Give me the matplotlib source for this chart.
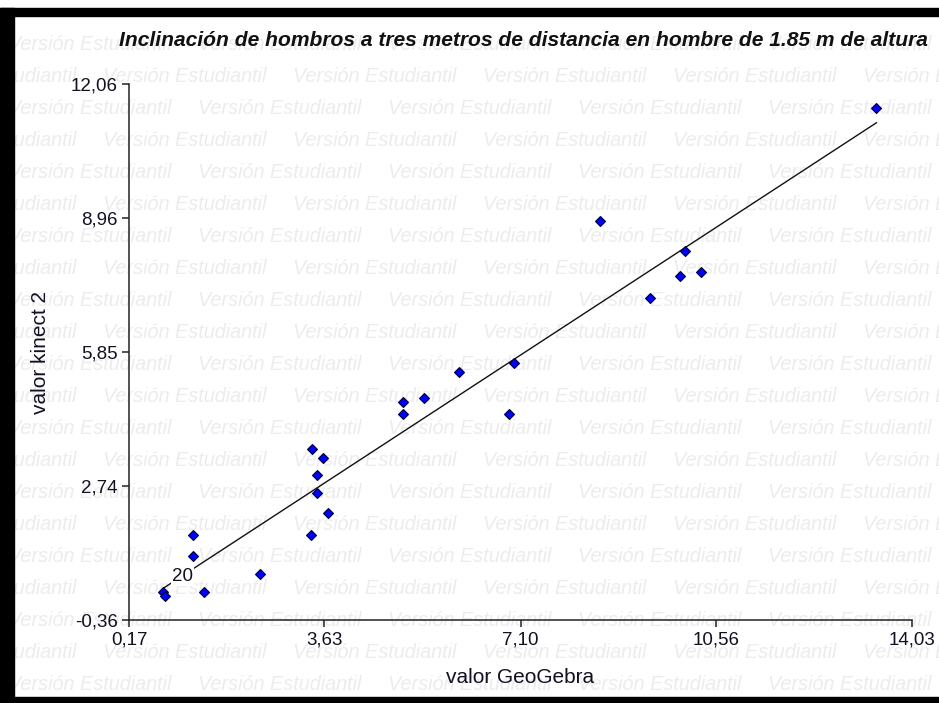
import numpy as np
import matplotlib.pyplot as plt
from matplotlib.patches import Rectangle

# valores medidos (GeoGebra vs Kinect 2)
geogebra = [13.40, 8.50, 10.01, 9.92, 10.29, 9.40, 6.98, 6.01, 5.39, 5.02, 5.02, 6.90,
            3.41, 3.60, 3.50, 3.50, 3.69, 3.40, 1.30, 1.30, 2.49, 0.78, 0.80, 1.49]
kinect = [11.50, 8.89, 8.20, 7.62, 7.71, 7.09, 5.60, 5.39, 4.78, 4.70, 4.41, 4.41,
          3.60, 3.39, 3.00, 2.59, 2.11, 1.61, 1.61, 1.12, 0.70, 0.30, 0.20, 0.30]
labelled_obs = 21  # posición de la observación rotulada
obs_label = "20"

x_ticks = [0.17, 3.63, 7.10, 10.56, 14.03]
y_ticks = [-0.36, 2.74, 5.85, 8.96, 12.06]
x_ticklabels = ["0,17", "3,63", "7,10", "10,56", "14,03"]
y_ticklabels = ["-0,36", "2,74", "5,85", "8,96", "12,06"]

title = "Inclinación de hombros a tres metros de distancia en hombre de 1.85 m de altura"
watermark = "Versión Estudiantil"

plt.rcParams["font.family"] = ["Liberation Sans", "DejaVu Sans"]

W, H = 939, 703
fig = plt.figure(figsize=(W / 100, H / 100), dpi=100)
fig.patch.set_facecolor("white")

# marca de agua en filas alternadas
for k in range(21):
    y = 44 + 32 * k
    x0 = 8 if k % 2 == 0 else 103
    for j in range(-1, 6):
        x = x0 + 190 * j
        fig.text(x / W, 1 - y / H, watermark, fontsize=14.3, style="italic",
                 color="#ececec", ha="left", va="center", zorder=-5)

ax = fig.add_axes([129 / W, 1 - 620 / H, (912 - 129) / W, (620 - 84) / H])
ax.patch.set_alpha(0)

gx = np.array(geogebra)
gy = np.array(kinect)
slope, intercept = np.polyfit(gx, gy, 1)
xs = np.array([gx.min(), gx.max()])
ax.plot(xs, slope * xs + intercept, color="#111111", lw=1.0, zorder=2)

ax.plot(gx, gy, ls="none", marker="D", ms=5.6, mfc="#0000ff", mec="#000033",
        mew=0.8, zorder=3)

ax.annotate(obs_label, (gx[labelled_obs], gy[labelled_obs]), xytext=(14, 10.5),
            textcoords="offset points", ha="center", va="center", fontsize=13.5,
            color="#111122", zorder=4,
            bbox=dict(boxstyle="square,pad=0.05", fc="white", ec="none"))

ax.set_xlim(x_ticks[0], x_ticks[-1])
ax.set_ylim(y_ticks[0], y_ticks[-1])
ax.set_xticks(x_ticks, x_ticklabels)
ax.set_yticks(y_ticks, y_ticklabels)
ax.tick_params(direction="out", length=5, width=1.1, colors="#222222",
               labelcolor="#111122", labelsize=13.5, pad=3)
for side in ("top", "right"):
    ax.spines[side].set_visible(False)
for side in ("left", "bottom"):
    ax.spines[side].set_linewidth(1.1)
    ax.spines[side].set_color("#222222")

ax.set_xlabel("valor GeoGebra", fontsize=15, color="#111122", labelpad=14)
ax.set_ylabel("valor kinect 2", fontsize=15, color="#111122", labelpad=15)

fig.text(523 / W, 1 - 40 / H, title, fontsize=15.1, fontweight="bold", style="italic",
         ha="center", va="center", color="#111111")

# marco negro
for (x, y, w, h) in [(0, 8, W, 8), (0, 8, 14, H - 8), (0, H - 6, W, 6)]:
    fig.add_artist(Rectangle((x / W, 1 - (y + h) / H), w / W, h / H,
                             transform=fig.transFigure, color="black", zorder=10))

fig.savefig("out.png", dpi=100)
